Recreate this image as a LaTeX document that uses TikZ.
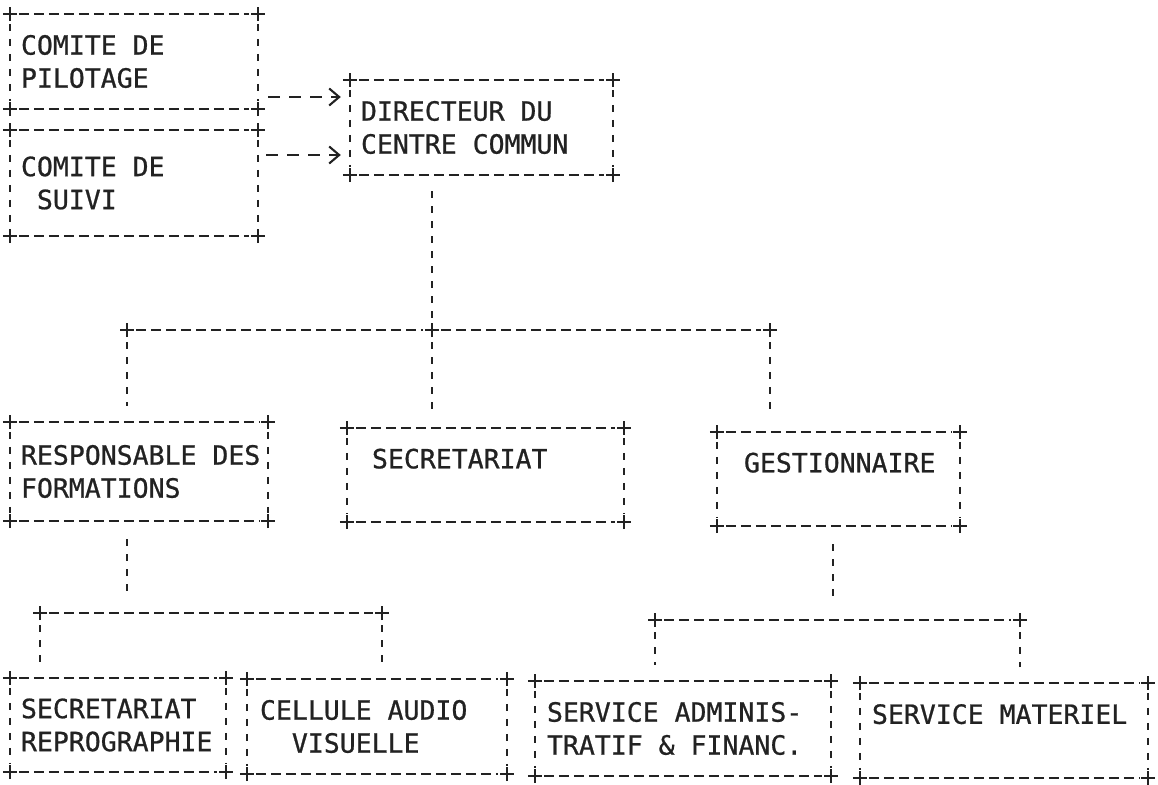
\documentclass[tikz,border=0pt]{standalone}
\usepackage{fontspec}
\newfontfamily\printfont[FakeBold=0.8]{DejaVu Sans Mono}
\usetikzlibrary{arrows.meta,calc,fit}
\definecolor{inkc}{HTML}{222222}
\tikzset{
  x=1pt, y=-1pt,
  ink/.style={draw=inkc, line width=2.1pt},
  dline/.style={ink, dash pattern=on 10pt off 5pt},
  vline/.style={ink, dash pattern=on 7pt off 8pt},
  arrline/.style={ink, dash pattern=on 12pt off 9pt, -{Straight Barb[length=10pt,width=17pt,line width=2.1pt]}},
  boxst/.style={rectangle, draw=none, inner sep=0pt},
  txt/.style={font=\printfont\fontsize{26.5}{33}\selectfont, align=left, inner sep=0pt, text=inkc},
}
\newcommand\plusmark[1]{\draw[ink, line width=2.3pt] (#1) ++(-7pt,0) -- ++(14pt,0) (#1) ++(0,-7pt) -- ++(0,14pt);}
\newcommand\asciibox[5]{%
  \node[boxst, fit={(#2,#3)(#4,#5)}] (#1) {};
  \draw[dline, shorten <=9pt, shorten >=9pt] (#1.north west) -- (#1.north east);
  \draw[dline, shorten <=9pt, shorten >=9pt] (#1.south west) -- (#1.south east);
  \draw[vline, shorten <=10pt, shorten >=8pt] (#1.north west) -- (#1.south west);
  \draw[vline, shorten <=10pt, shorten >=8pt] (#1.north east) -- (#1.south east);
  \foreach \c in {north west,north east,south west,south east}{\plusmark{#1.\c}}%
}
\begin{document}
\begin{tikzpicture}
\useasboundingbox (0,0) rectangle (1158,784);

% boxes
\asciibox{pil}{10}{14}{258}{109}
\asciibox{suivi}{10}{130}{258}{236}
\asciibox{dir}{350}{80}{613}{175}
\asciibox{resp}{10}{422}{268}{521}
\asciibox{sec}{347}{428}{624}{522}
\asciibox{gest}{717}{432}{960}{526}
\asciibox{srep}{10}{678}{226}{772}
\asciibox{cell}{247}{679}{507}{774}
\asciibox{sadm}{535}{681}{831}{776}
\asciibox{smat}{860}{683}{1148}{778}

% texts
\node[txt, anchor=west] (pilt) at ([xshift=11pt]pil.west) {COMITE DE\\PILOTAGE};
\node[txt, anchor=west] (suivit) at ([xshift=11pt]suivi.west) {COMITE DE\\\phantom{X}SUIVI};
\node[txt, anchor=west] (dirt) at ([xshift=11pt]dir.west) {DIRECTEUR DU\\CENTRE COMMUN};
\node[txt, anchor=west] (respt) at ([xshift=11pt]resp.west) {RESPONSABLE DES\\FORMATIONS};
\node[txt, anchor=west] (sect) at ([xshift=25pt]sec.west) {SECRETARIAT\\\mbox{}};
\node[txt, anchor=west] (gestt) at ([xshift=27pt]gest.west) {GESTIONNAIRE\\\mbox{}};
\node[txt, anchor=west] (srept) at ([xshift=11pt]srep.west) {SECRETARIAT\\REPROGRAPHIE};
\node[txt, anchor=west] (cellt) at ([xshift=13pt]cell.west) {CELLULE AUDIO\\\phantom{XX}VISUELLE};
\node[txt, anchor=west] (sadmt) at ([xshift=12pt]sadm.west) {SERVICE ADMINIS-\\TRATIF \& FINANC.};
\node[txt, anchor=west] (smatt) at ([xshift=12pt]smat.west) {SERVICE MATERIEL\\\mbox{}};

% dashed arrows to the director
\coordinate (a1) at (0,97);
\coordinate (a2) at (0,155);
\draw[arrline, shorten <=10pt, shorten >=9pt] (pil.east |- a1) -- (dir.west |- a1);
\draw[arrline, shorten <=8pt, shorten >=9pt] (suivi.east |- a2) -- (dir.west |- a2);

% first level junction
\coordinate (jl) at (127,330);
\coordinate (jm) at (432,330);
\coordinate (jr) at (770,330);
\draw[vline, shorten <=16pt, shorten >=10pt] (dir.south -| jm) -- (jm);
\draw[dline, shorten <=9pt, shorten >=9pt] (jl) -- (jm);
\draw[dline, shorten <=9pt, shorten >=9pt] (jm) -- (jr);
\draw[vline, shorten <=12pt, shorten >=16pt] (jl) -- (resp.north -| jl);
\draw[vline, shorten <=12pt, shorten >=16pt] (jm) -- (sec.north -| jm);
\draw[vline, shorten <=12pt, shorten >=16pt] (jr) -- (gest.north -| jr);
\plusmark{jl}\plusmark{jm}\plusmark{jr}

% under RESPONSABLE DES FORMATIONS
\coordinate (kl) at (40,613);
\coordinate (km) at (127,613);
\coordinate (kr) at (382,613);
\draw[vline, shorten <=18pt, shorten >=20pt] (resp.south -| km) -- (km);
\draw[dline, shorten <=9pt, shorten >=9pt] (kl) -- (kr);
\draw[vline, shorten <=12pt, shorten >=16pt] (kl) -- (srep.north -| kl);
\draw[vline, shorten <=12pt, shorten >=16pt] (kr) -- (cell.north -| kr);
\plusmark{kl}\plusmark{kr}

% under GESTIONNAIRE
\coordinate (gl) at (655,620);
\coordinate (gm) at (833,620);
\coordinate (gr) at (1020,620);
\draw[vline, shorten <=18pt, shorten >=20pt] (gest.south -| gm) -- (gm);
\draw[dline, shorten <=9pt, shorten >=9pt] (gl) -- (gr);
\draw[vline, shorten <=12pt, shorten >=16pt] (gl) -- (sadm.north -| gl);
\draw[vline, shorten <=12pt, shorten >=16pt] (gr) -- (smat.north -| gr);
\plusmark{gl}\plusmark{gr}
\end{tikzpicture}
\end{document}
